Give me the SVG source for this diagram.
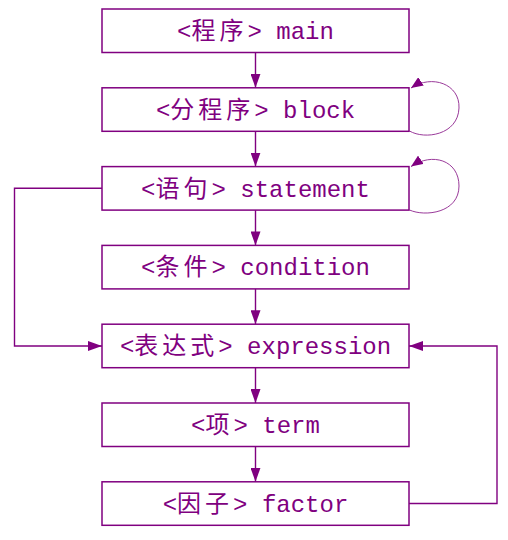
<svg xmlns="http://www.w3.org/2000/svg" width="508" height="540" viewBox="0 0 508 540">
<style>
.box{fill:#fff;stroke:#800080;stroke-width:1.5}
.lbl{font-family:"Liberation Mono","Noto Sans CJK SC",monospace;font-size:24px;fill:#800080;text-anchor:middle}
.cjk{letter-spacing:4px}
.ln{fill:none;stroke:#800080;stroke-width:1.4}
.loop{fill:none;stroke:#9a3a9a;stroke-width:1}
</style>
<defs>
<marker id="ah" markerUnits="userSpaceOnUse" markerWidth="14" markerHeight="10" refX="14" refY="5" orient="auto" viewBox="0 0 14 10">
<path d="M0,0 L14,5 L0,10 z" fill="#800080"/>
</marker>
<marker id="ahs" markerUnits="userSpaceOnUse" markerWidth="12" markerHeight="10" refX="12" refY="5" orient="auto" viewBox="0 0 12 10">
<path d="M0,0 L12,5 L0,10 z" fill="#800080"/>
</marker>
</defs>
<rect width="508" height="540" fill="#fff"/>
<g id="connectors">
<line class="ln" x1="255.5" y1="52.5" x2="255.5" y2="87.8" marker-end="url(#ah)"/>
<line class="ln" x1="255.5" y1="131.3" x2="255.5" y2="166.6" marker-end="url(#ah)"/>
<line class="ln" x1="255.5" y1="210.1" x2="255.5" y2="245.4" marker-end="url(#ah)"/>
<line class="ln" x1="255.5" y1="288.9" x2="255.5" y2="324.2" marker-end="url(#ah)"/>
<line class="ln" x1="255.5" y1="367.7" x2="255.5" y2="403" marker-end="url(#ah)"/>
<line class="ln" x1="255.5" y1="446.5" x2="255.5" y2="481.8" marker-end="url(#ah)"/>
<path class="ln" d="M102,188.3 H14.5 V346 H102" marker-end="url(#ah)"/>
<path class="ln" d="M409,503.5 H497 V346 H409" marker-end="url(#ah)"/>
<path class="loop" d="M409.5,131 C425,140 458,135 459,108 C460,84 432,74 411,88" marker-end="url(#ahs)"/>
<path class="loop" d="M409.5,210 C425,217 459,213 459,186 C459,160 432,152 411,166.6" marker-end="url(#ahs)"/>
</g>
<g id="main"><rect class="box" x="102" y="9" width="307" height="43.5"/><text class="lbl" x="255.5" y="39">&lt;<tspan class="cjk">程序</tspan>&gt; main</text></g>
<g id="block"><rect class="box" x="102" y="87.8" width="307" height="43.5"/><text class="lbl" x="255.5" y="117.8">&lt;<tspan class="cjk">分程序</tspan>&gt; block</text></g>
<g id="statement"><rect class="box" x="102" y="166.6" width="307" height="43.5"/><text class="lbl" x="255.5" y="196.6">&lt;<tspan class="cjk">语句</tspan>&gt; statement</text></g>
<g id="condition"><rect class="box" x="102" y="245.4" width="307" height="43.5"/><text class="lbl" x="255.5" y="275.4">&lt;<tspan class="cjk">条件</tspan>&gt; condition</text></g>
<g id="expression"><rect class="box" x="102" y="324.2" width="307" height="43.5"/><text class="lbl" x="255.5" y="354.2">&lt;<tspan class="cjk">表达式</tspan>&gt; expression</text></g>
<g id="term"><rect class="box" x="102" y="403" width="307" height="43.5"/><text class="lbl" x="255.5" y="433">&lt;<tspan class="cjk">项</tspan>&gt; term</text></g>
<g id="factor"><rect class="box" x="102" y="481.8" width="307" height="43.5"/><text class="lbl" x="255.5" y="511.8">&lt;<tspan class="cjk">因子</tspan>&gt; factor</text></g>
</svg>
